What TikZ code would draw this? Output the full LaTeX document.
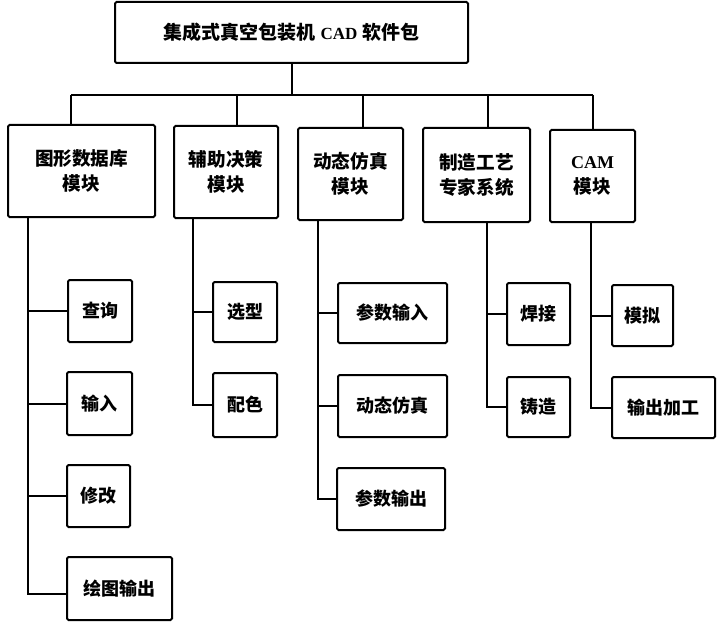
\documentclass[tikz,border=0pt]{standalone}
\usepackage{fontspec}
\newfontfamily\cjk[BoldFont={Noto Sans CJK SC Black}]{Noto Sans CJK SC}
\newfontfamily\latserif{Liberation Serif}
\begin{document}
\begin{tikzpicture}[x=1pt,y=-1pt,
  box/.style={draw,line width=2pt,rounded corners=1.5pt,inner sep=0pt,align=center,
    font=\fontsize{18}{24}\selectfont\cjk\bfseries},
  modbox/.style={box,minimum height=92pt,font=\fontsize{18.6}{25}\selectfont\cjk\bfseries},
  link/.style={line width=2pt}]
\useasboundingbox (0,0) rectangle (717,623);
% top
\node[box,minimum width=353pt,minimum height=61pt,font=\fontsize{19}{24}\selectfont\cjk\bfseries] (top) at (291.5,32.5)
  {集成式真空包装机\hspace{5pt}{\latserif\bfseries\fontsize{17}{24}\selectfont CAD}\hspace{5pt}软件包};
% modules
\node[modbox,minimum width=147pt] (m1) at (81.5,171) {图形数据库\\模块};
\node[modbox,minimum width=104pt] (m2) at (226,172) {辅助决策\\模块};
\node[modbox,minimum width=105pt] (m3) at (350.5,174) {动态仿真\\模块};
\node[modbox,minimum width=107pt,minimum height=94pt] (m4) at (476.5,175) {制造工艺\\专家系统};
\node[modbox,minimum width=85pt] (m5) at (592.5,176) {{\latserif\bfseries\fontsize{18}{24}\selectfont CAM}\\模块};
% bus
\coordinate (t1) at (71,95);
\coordinate (t2) at (237,95);
\coordinate (t3) at (363,95);
\coordinate (t4) at (488,95);
\coordinate (t5) at (593,95);
\draw[link] (top.south) -- (top.south |- t1);
\draw[link] (t1) -- (t5);
\draw[link] (t1) -- (t1 |- m1.north);
\draw[link] (t2) -- (t2 |- m2.north);
\draw[link] (t3) -- (t3 |- m3.north);
\draw[link] (t4) -- (t4 |- m4.north);
\draw[link] (t5) -- (t5 |- m5.north);
% leaves
\node[box,minimum width=64pt,minimum height=62pt] (a1) at (100,311) {查询};
\node[box,minimum width=65pt,minimum height=63pt] (a2) at (99.5,403.5) {输入};
\node[box,minimum width=63pt,minimum height=62pt] (a3) at (98.5,496) {修改};
\node[box,minimum width=105pt,minimum height=63pt] (a4) at (119.5,588.5) {绘图输出};
\node[box,minimum width=64pt,minimum height=60pt] (b1) at (245,312) {选型};
\node[box,minimum width=64pt,minimum height=64pt] (b2) at (245,405) {配色};
\node[box,minimum width=109pt,minimum height=60pt] (c1) at (392.5,313) {参数输入};
\node[box,minimum width=109pt,minimum height=62pt] (c2) at (392.5,406) {动态仿真};
\node[box,minimum width=108pt,minimum height=62pt] (c3) at (391,499) {参数输出};
\node[box,minimum width=63pt,minimum height=62pt] (d1) at (538.5,314) {焊接};
\node[box,minimum width=63pt,minimum height=60pt] (d2) at (538.5,407) {铸造};
\node[box,minimum width=61pt,minimum height=61pt] (e1) at (642.5,315.5) {模拟};
\node[box,minimum width=103pt,minimum height=61pt] (e2) at (663.5,407.5) {输出加工};
% stems
\coordinate (s1) at (28,0);
\coordinate (s2) at (193,0);
\coordinate (s3) at (318,0);
\coordinate (s4) at (487,0);
\coordinate (s5) at (591,0);
\draw[link] ([yshift=-5pt]a4.west) -| (m1.south -| s1);
\draw[link] (a1.west) -- (a1.west -| s1);
\draw[link] (a2.west) -- (a2.west -| s1);
\draw[link] (a3.west) -- (a3.west -| s1);
\draw[link] (b2.west) -| (m2.south -| s2);
\draw[link] (b1.west) -- (b1.west -| s2);
\draw[link] (c3.west) -| (m3.south -| s3);
\draw[link] (c1.west) -- (c1.west -| s3);
\draw[link] (c2.west) -- (c2.west -| s3);
\draw[link] (d2.west) -| (m4.south -| s4);
\draw[link] (d1.west) -- (d1.west -| s4);
\draw[link] (e2.west) -| (m5.south -| s5);
\draw[link] (e1.west) -- (e1.west -| s5);
\end{tikzpicture}
\end{document}
